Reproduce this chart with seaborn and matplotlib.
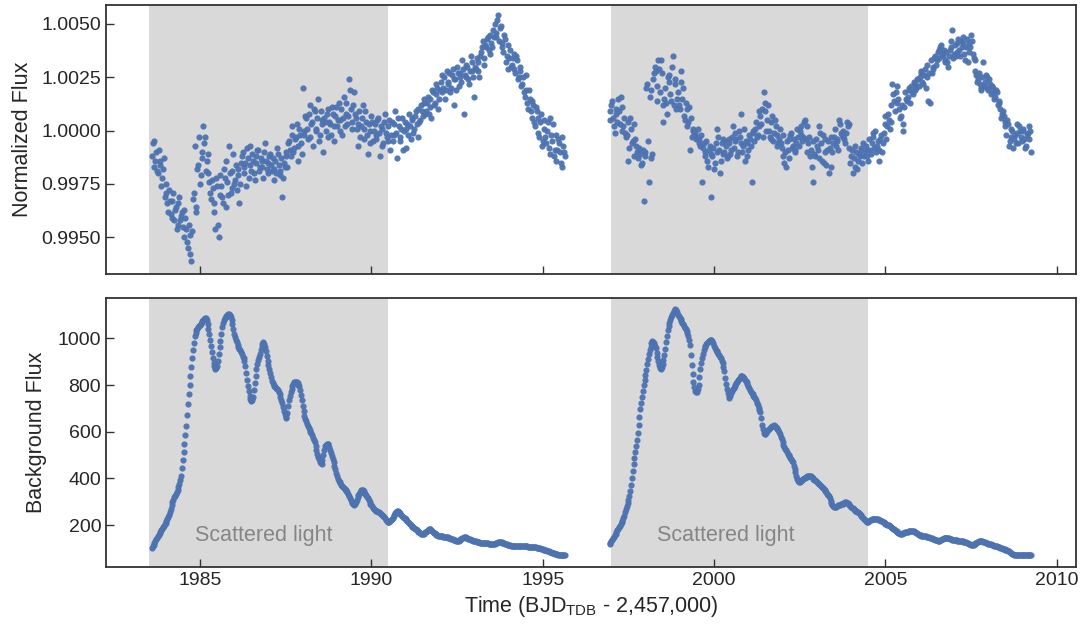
import numpy as np
import pandas as pd
import matplotlib
matplotlib.use("Agg")
import matplotlib.pyplot as plt
import seaborn as sns

# ---------------- data ----------------
cadence = 0.05          # days between samples in each interleaved set
seg1_start = 1983.60    # first sample of orbit 1
seg2_start = 1996.95    # first sample of orbit 2
# set "a" starts at the segment start, set "b" half a cadence later

# normalized flux, expressed as deviation from 1 in parts per thousand
flux_ppt_seg1_a = [
    -1.2, -0.5, -1.4, -1.9, -0.9, -1.6, -2.2, -1.3, -2.9, -3.4,
    -2.8, -3.9, -3.3, -4.2, -3.6, -4.4, -3.1, -4.0, -4.5, -3.7,
    -4.6, -5.5, -4.9, -6.1, -3.2, -0.7, -3.6, -1.6, -2.5, -1.0,
    0.2, -0.3, -1.4, -2.0, -2.9, -2.3, -3.4, -4.6, -2.6, -5.0,
    -2.1, -3.1, -1.8, -3.6, -2.4, -0.7, -2.9, -1.9, -2.5, -1.6,
    -2.1, -3.4, -1.5, -1.0, -1.7, -2.6, -1.3, -0.7, -1.9, -1.4,
    -2.3, -1.2, -0.9, -1.7, -1.4, -2.2, -0.6, -1.8, -1.5, -1.1,
    -1.9, -2.3, -1.4, -0.8, -1.6, -2.1, -3.1, -1.5, -1.0, -1.7,
    -0.5, -1.2, 0.2, -0.8, -0.3, -1.4, 0.1, -0.6, 2.0, -0.2,
    0.6, -0.4, 1.2, 0.3, -0.7, 0.9, 0.1, 1.5, -0.2, 0.5,
    -1.0, 0.4, 0.8, -0.3, 0.3, 1.1, -0.5, 0.7, 0.2, 1.3,
    0.5, -0.2, 1.6, 0.8, 0.3, 2.4, 1.0, 0.1, 1.8, 0.6,
    -0.7, 0.9, 0.2, 1.2, -0.4, 0.4, -1.1, 0.0, 0.7, -0.5,
    0.3, -0.2, 0.6, -1.2, 0.1, -0.6, 0.8, -0.3, 0.2, -0.9,
    0.4, -0.2, 0.9, -1.3, 0.2, -0.5, 0.6, 0.0, -0.8, 0.3,
    0.8, -0.4, 0.5, 0.1, 0.9, -0.3, 0.4, 1.2, 0.7, 1.5,
    0.9, 1.6, 1.1, 0.6, 1.8, 1.3, 2.2, 1.0, 1.9, 2.6,
    2.0, 1.5, 2.8, 2.3, 1.8, 2.6, 1.2, 2.4, 3.0, 2.1,
    2.7, 3.3, 0.8, 2.5, 3.0, 2.2, 3.5, 2.8, 1.6, 2.9,
    3.2, 2.5, 3.7, 4.2, 3.4, 3.9, 4.4, 3.6, 4.1, 4.7,
    5.0, 4.4, 5.4, 4.8, 4.1, 3.7, 4.3, 3.5, 2.9, 3.8,
    3.1, 3.6, 2.7, 3.3, 2.5, 3.0, 2.2, 1.8, 2.6, 1.3,
    1.9, 0.9, 1.4, 0.4, 1.1, 0.6, -0.3, 0.8, -0.5, 0.1,
    -0.6, 0.4, -1.1, -0.2, 0.3, -0.9, -1.4, -0.4, -1.0, -1.7,
    -0.7, -1.2,
]

flux_ppt_seg1_b = [
    -0.6, -1.7, -1.0, -2.0, -1.4, -2.6, -1.8, -3.1, -2.5, -3.8,
    -3.3, -4.1, -2.9, -3.7, -4.6, -3.4, -4.2, -3.8, -5.0, -4.1,
    -5.2, -4.4, -5.8, -4.7, -2.9, -3.8, -1.8, -0.3, -2.1, -1.3,
    -0.6, -1.9, -1.1, -2.4, -3.2, -2.7, -3.8, -2.2, -4.4, -3.0,
    -2.6, -3.4, -2.2, -1.4, -3.0, -2.0, -2.7, -1.1, -2.3, -2.8,
    -1.8, -2.5, -1.2, -2.0, -1.5, -0.8, -2.2, -1.6, -1.1, -2.0,
    -1.5, -0.9, -1.9, -1.3, -1.7, -1.0, -1.4, -2.0, -1.2, -1.6,
    -1.3, -1.8, -2.0, -1.1, -1.9, -1.3, -2.2, -1.7, -1.2, -0.6,
    -0.9, -0.2, -1.0, -0.4, 0.3, -0.7, -0.2, -1.1, 0.0, 0.7,
    0.1, 0.8, -0.3, 0.4, 1.0, 0.0, 0.6, -0.5, 0.9, 0.3,
    0.6, 0.0, 1.0, 0.4, -0.2, 0.8, 0.2, 1.1, 0.5, 0.0,
    1.0, 0.6, 0.2, 1.3, 0.7, 1.9, 0.4, 1.2, 0.8, 0.1,
    0.3, -0.3, 0.6, 0.1, 0.9, -0.2, 0.3, -0.6, 0.4, 0.0,
    -0.4, 0.5, -0.1, 0.2, -0.7, 0.4, -0.1, -0.5, 0.5, -0.2,
    -0.5, 0.3, -0.1, 0.6, -0.3, 0.1, -0.9, 0.4, 0.1, -0.2,
    0.2, 0.6, -0.1, 0.7, 0.3, 1.0, 0.5, 0.9, 1.3, 0.8,
    1.3, 0.8, 1.5, 1.9, 1.2, 1.7, 2.0, 1.5, 2.3, 1.8,
    2.5, 1.9, 2.2, 2.7, 2.0, 2.9, 2.4, 1.9, 2.7, 2.5,
    2.3, 2.9, 2.6, 3.1, 2.4, 2.8, 3.2, 2.5, 3.0, 3.4,
    2.8, 3.5, 3.9, 3.1, 4.0, 4.3, 3.8, 4.5, 3.9, 4.4,
    4.6, 5.2, 4.2, 4.9, 3.9, 4.5, 3.2, 4.0, 3.4, 3.0,
    3.4, 2.9, 3.5, 2.4, 2.8, 2.1, 2.5, 1.6, 1.9, 1.0,
    1.5, 0.6, 1.2, 0.2, 0.9, -0.1, 0.4, -0.7, 0.5, -0.3,
    0.0, -0.8, 0.6, -0.5, -1.2, -0.2, -0.9, -0.6, -1.5, -0.3,
    -1.0,
]

flux_ppt_seg2_a = [
    0.9, 1.2, 0.6, -0.1, 0.8, 1.5, 0.3, 1.1, 0.2, -0.1,
    -0.2, -1.4, 0.6, -0.6, 0.3, -0.4, -1.0, -0.9, -1.1, -1.5,
    -3.3, -1.2, 2.2, -2.4, 1.9, -1.1, 2.7, 2.8, 1.4, 2.9,
    3.3, 0.4, 1.5, 1.3, 2.5, 2.6, 1.4, 3.5, 2.2, 1.0,
    1.8, 1.0, 2.8, 2.0, 0.5, 1.0, 0.4, -0.9, -0.3, 0.0,
    -0.1, -0.3, -0.4, -0.7, -2.4, -0.6, -1.0, -1.4, -0.9, -3.1,
    -1.2, -1.8, -0.6, 0.1, -0.9, -1.4, -0.4, -1.0, -0.7, -1.2,
    -0.6, -0.9, 0.2, -0.1, -0.4, -1.0, -0.3, 0.8, -0.7, -1.4,
    -0.6, -0.9, -0.4, -2.4, -0.1, 0.1, -0.3, 0.2, 0.7, 1.0,
    1.8, 1.3, 0.5, 0.0, -0.4, 0.7, -0.1, 0.2, -0.7, -0.4,
    -0.6, -1.2, -1.5, -1.7, -0.9, -0.4, -0.1, -0.7, -1.0, -0.6,
    -0.3, 0.0, 0.2, -0.3, 0.5, 0.2, -0.6, -1.2, -1.7, -2.4,
    -1.2, -0.7, 0.2, -0.1, -1.4, -1.5, -0.4, -0.9, -2.0, -1.7,
    -1.0, -0.3, -0.7, -0.4, 0.5, -0.1, -0.3, -0.4, -0.1, 0.2,
    0.3, -1.2, -2.0, -1.7, -1.0, -1.4, -1.2, -0.9, -0.6, -1.0,
    -1.2, -1.4, -0.9, -0.6, -0.1, 0.0, -0.7, -1.4, -0.4, -1.0,
    -0.1, 0.7, 0.2, 0.5, 0.4, 2.2, 1.4, 1.8, 1.3, 1.0,
    0.7, 0.0, 1.1, 1.5, 1.6, 1.9, 2.1, 1.7, 2.2, 2.0,
    2.4, 2.5, 2.7, 2.2, 2.9, 2.5, 1.4, 1.3, 2.7, 3.0,
    3.5, 3.3, 3.8, 3.9, 3.6, 3.8, 3.3, 3.2, 3.5, 3.9,
    4.7, 3.6, 3.5, 4.1, 3.8, 4.2, 4.4, 3.6, 3.9, 3.2,
    4.1, 4.5, 3.6, 3.3, 2.6, 2.4, 2.2, 1.9, 3.2, 2.3,
    2.5, 1.9, 2.2, 2.1, 1.8, 1.6, 1.8, 1.3, 1.0, 0.8,
    0.7, 0.2, 0.5, -0.7, -0.3, 0.0, -0.4, -0.6, -0.1, 0.2,
    -0.3, 0.0, -0.4, -0.7, -0.1, 0.2, -1.0,
]

flux_ppt_seg2_b = [
    0.5, 1.4, 0.2, 1.0, 0.4, 0.9, 1.6, 0.0, 0.6, -0.3,
    0.4, -0.8, 0.1, -0.5, -1.2, -0.7, -1.3, -0.8, -1.6, -0.9,
    -1.0, 2.0, -0.5, 1.6, -1.3, 2.4, 3.0, 2.1, 3.3, 1.8,
    2.7, 1.2, 2.0, 0.8, 2.3, 1.7, 3.0, 1.2, 2.4, 1.5,
    1.2, 2.3, 1.5, 0.7, 1.3, 0.2, 1.1, 0.6, 0.1, -0.2,
    -0.4, 0.1, -0.6, -0.2, -0.8, -1.2, -0.5, -1.7, -0.7, -1.1,
    -0.8, -1.5, -1.0, -0.3, -2.0, -0.6, -1.1, -0.5, -1.3, -0.4,
    -1.1, -0.3, -0.8, -0.5, -1.2, 0.0, -0.6, -1.0, 0.1, -0.5,
    -1.2, -0.2, -0.7, 0.0, -0.5, 0.4, -0.2, 0.9, 0.3, -0.3,
    0.9, 0.0, 1.2, -0.3, 0.4, -0.5, 0.5, -0.2, -0.6, 0.1,
    -0.8, -0.2, -1.0, -0.5, -1.3, -0.2, -0.8, -0.4, -0.9, 0.1,
    -0.7, -0.2, -0.5, 0.4, -0.4, -1.0, -0.3, -0.9, -0.5, -1.1,
    -0.4, -0.9, -1.3, -0.6, -0.2, -1.0, -1.6, -0.5, -0.8, -0.3,
    -0.6, 0.1, -0.5, -0.9, 0.3, -0.2, 0.0, -0.6, 0.4, -0.8,
    -1.5, -0.9, -1.3, -0.7, -1.8, -1.1, -0.8, -1.5, -1.2, -0.7,
    -0.9, -0.4, -1.1, -0.3, -0.8, -1.0, -0.5, -0.9, -0.2, -0.6,
    0.3, -0.4, 0.8, 0.1, 1.2, 1.7, 0.9, 2.1, 1.5, 0.6,
    1.2, 0.3, 1.8, 1.4, 2.0, 1.3, 1.8, 2.3, 1.9, 2.4,
    2.1, 2.8, 2.3, 2.6, 2.0, 3.1, 2.7, 3.3, 2.9, 3.4,
    3.1, 3.7, 3.4, 4.0, 3.5, 3.2, 3.7, 3.0, 3.8, 4.2,
    3.4, 4.0, 3.7, 4.3, 3.5, 3.9, 4.1, 3.3, 4.3, 3.7,
    3.9, 4.2, 3.4, 2.8, 2.3, 2.7, 2.0, 2.5, 2.1, 2.6,
    2.0, 2.4, 1.7, 2.0, 1.5, 1.9, 1.2, 1.4, 0.6, 0.9,
    0.4, -0.2, 0.3, -0.5, 0.1, -0.8, -0.2, 0.3, -0.6, 0.0,
    -0.5, 0.1, -0.8, -0.2, -0.4, 0.0,
]

# background flux
bkg_seg1_a = [
    103, 115, 130, 146, 159, 172, 185, 197, 210, 226,
    245, 270, 298, 318, 335, 352, 375, 412, 478, 548,
    625, 718, 800, 878, 950, 1010, 1035, 1048, 1058, 1068,
    1078, 1088, 1078, 1040, 995, 940, 895, 870, 880, 935,
    990, 1048, 1078, 1092, 1100, 1104, 1090, 1062, 1020, 995,
    972, 955, 940, 922, 905, 850, 795, 755, 730, 748,
    810, 868, 907, 935, 962, 985, 965, 925, 885, 850,
    818, 800, 790, 783, 772, 750, 722, 690, 660, 680,
    735, 768, 795, 812, 815, 808, 795, 758, 710, 668,
    645, 625, 608, 593, 575, 557, 520, 492, 471, 462,
    500, 538, 548, 548, 522, 497, 468, 440, 408, 390,
    378, 367, 358, 350, 340, 325, 307, 293, 286, 298,
    318, 335, 348, 348, 338, 328, 314, 298, 287, 275,
    265, 260, 256, 252, 245, 238, 228, 218, 212, 216,
    225, 238, 252, 260, 255, 246, 238, 231, 225, 217,
    208, 200, 193, 188, 182, 175, 168, 163, 160, 164,
    172, 180, 183, 178, 170, 164, 158, 155, 153, 152,
    150, 149, 148, 146, 143, 140, 137, 134, 132, 133,
    138, 143, 147, 147, 144, 140, 137, 134, 132, 130,
    128, 126, 125, 124, 123, 122, 121, 120, 119, 118,
    120, 123, 126, 127, 126, 123, 120, 117, 115, 113,
    112, 111, 110, 110, 110, 109, 109, 108, 108, 108,
    107, 106, 105, 105, 104, 103, 101, 99, 97, 94,
    92, 89, 86, 83, 80, 77, 75, 73, 72, 71,
    71, 71,
]

bkg_seg1_b = [
    109, 122, 138, 152, 165, 178, 191, 203, 218, 235,
    257, 284, 308, 326, 343, 363, 393, 445, 513, 586,
    672, 760, 840, 915, 982, 1024, 1042, 1053, 1063, 1073,
    1084, 1086, 1061, 1018, 968, 917, 880, 873, 905, 962,
    1020, 1065, 1086, 1097, 1103, 1099, 1077, 1042, 1006, 983,
    963, 948, 931, 914, 880, 822, 773, 740, 737, 778,
    840, 889, 922, 949, 975, 977, 946, 905, 867, 834,
    808, 795, 786, 778, 762, 737, 706, 674, 665, 710,
    753, 782, 804, 815, 812, 802, 778, 735, 688, 655,
    635, 616, 600, 584, 566, 540, 505, 481, 465, 480,
    521, 545, 549, 536, 510, 483, 454, 424, 398, 384,
    372, 362, 354, 345, 333, 316, 300, 289, 291, 308,
    327, 342, 349, 344, 333, 321, 306, 292, 281, 270,
    262, 258, 254, 249, 242, 233, 223, 214, 213, 220,
    231, 245, 257, 258, 251, 242, 235, 228, 221, 212,
    204, 196, 190, 185, 179, 171, 165, 161, 162, 168,
    176, 182, 181, 174, 167, 161, 156, 154, 152, 151,
    150, 148, 147, 145, 141, 138, 135, 133, 132, 135,
    141, 145, 147, 146, 142, 138, 135, 133, 131, 129,
    127, 125, 124, 123, 122, 121, 120, 119, 118, 119,
    121, 124, 127, 127, 124, 121, 118, 116, 114, 112,
    111, 110, 110, 110, 109, 109, 108, 108, 108, 107,
    106, 105, 105, 104, 103, 102, 100, 98, 95, 93,
    90, 87, 84, 81, 78, 76, 74, 72, 71, 71,
    71,
]

bkg_seg2_a = [
    118, 130, 143, 157, 170, 184, 197, 211, 228, 254,
    280, 306, 345, 400, 460, 514, 564, 627, 697, 750,
    798, 842, 890, 933, 965, 990, 980, 957, 920, 885,
    868, 888, 928, 985, 1035, 1066, 1090, 1108, 1124, 1120,
    1102, 1088, 1073, 1060, 1045, 1033, 1012, 970, 885, 814,
    775, 768, 800, 870, 915, 952, 968, 980, 988, 993,
    988, 968, 952, 940, 928, 914, 895, 858, 805, 765,
    745, 765, 782, 795, 808, 820, 832, 840, 835, 822,
    812, 795, 778, 765, 755, 745, 725, 703, 685, 630,
    595, 588, 602, 613, 618, 623, 627, 622, 612, 600,
    578, 555, 535, 520, 506, 494, 482, 468, 440, 412,
    388, 386, 392, 397, 402, 406, 410, 412, 406, 398,
    391, 384, 377, 370, 362, 355, 345, 335, 323, 305,
    287, 276, 279, 282, 285, 289, 292, 296, 298, 294,
    286, 278, 271, 265, 259, 254, 248, 240, 231, 222,
    213, 214, 220, 225, 226, 226, 224, 223, 221, 216,
    211, 206, 202, 198, 193, 188, 182, 176, 170, 164,
    161, 164, 167, 170, 172, 174, 175, 175, 171, 166,
    161, 157, 155, 153, 151, 150, 148, 146, 143, 140,
    137, 134, 132, 135, 139, 143, 146, 146, 143, 140,
    137, 135, 134, 133, 132, 131, 130, 128, 126, 122,
    118, 115, 114, 118, 124, 129, 132, 132, 129, 126,
    123, 120, 118, 115, 113, 110, 108, 105, 103, 100,
    97, 94, 91, 87, 82, 77, 73, 71, 71, 71,
    71, 71, 71, 71, 71, 71, 71,
]

bkg_seg2_b = [
    124, 136, 150, 163, 177, 190, 204, 219, 240, 267,
    293, 324, 372, 430, 487, 539, 595, 662, 724, 774,
    820, 866, 912, 950, 978, 986, 969, 939, 902, 875,
    876, 906, 955, 1012, 1052, 1079, 1100, 1117, 1123, 1112,
    1095, 1081, 1066, 1052, 1039, 1024, 993, 930, 848, 792,
    769, 782, 835, 894, 935, 961, 974, 984, 991, 991,
    979, 960, 946, 934, 921, 905, 878, 832, 784, 753,
    754, 774, 789, 802, 814, 826, 837, 838, 829, 817,
    804, 787, 771, 760, 750, 736, 714, 695, 660, 610,
    590, 595, 608, 616, 621, 625, 625, 617, 606, 590,
    567, 545, 527, 513, 500, 488, 476, 455, 426, 399,
    386, 389, 395, 400, 404, 408, 411, 409, 402, 395,
    388, 381, 374, 366, 359, 350, 340, 330, 315, 296,
    280, 277, 281, 284, 287, 291, 294, 297, 296, 290,
    282, 275, 268, 262, 257, 251, 244, 236, 227, 217,
    212, 217, 223, 226, 226, 225, 224, 222, 219, 214,
    209, 204, 200, 196, 191, 185, 179, 173, 167, 162,
    162, 166, 169, 171, 173, 175, 175, 173, 169, 164,
    159, 156, 154, 152, 151, 149, 147, 145, 142, 139,
    136, 133, 133, 137, 141, 145, 146, 145, 142, 139,
    136, 135, 134, 133, 132, 131, 129, 127, 124, 120,
    117, 114, 116, 121, 127, 131, 132, 131, 128, 125,
    122, 119, 117, 114, 112, 109, 107, 104, 102, 99,
    96, 93, 89, 85, 80, 75, 72, 71, 71, 71,
    71, 71, 71, 71, 71, 71,
]

scattered_spans = [(1983.5, 1990.5), (1997.0, 2004.5)]
label_text = "Scattered light"
top_yticks = [0.9950, 0.9975, 1.0000, 1.0025, 1.0050]
bottom_yticks = [200, 400, 600, 800, 1000]
xticks = [1985, 1990, 1995, 2000, 2005, 2010]


def segment_frame(start, values, name):
    t = start + cadence * np.arange(len(values))
    return pd.DataFrame({"time": t, name: values})


half = cadence / 2
top_df = pd.concat([
    segment_frame(seg1_start, flux_ppt_seg1_a, "ppt"),
    segment_frame(seg1_start + half, flux_ppt_seg1_b, "ppt"),
    segment_frame(seg2_start, flux_ppt_seg2_a, "ppt"),
    segment_frame(seg2_start + half, flux_ppt_seg2_b, "ppt"),
], ignore_index=True).sort_values("time")
top_df["flux"] = 1.0 + top_df["ppt"] / 1000.0

bkg_df = pd.concat([
    segment_frame(seg1_start, bkg_seg1_a, "bkg"),
    segment_frame(seg1_start + half, bkg_seg1_b, "bkg"),
    segment_frame(seg2_start, bkg_seg2_a, "bkg"),
    segment_frame(seg2_start + half, bkg_seg2_b, "bkg"),
], ignore_index=True).sort_values("time")

# ---------------- style ----------------
sns.set_style("ticks")
plt.rcParams["font.family"] = ["Liberation Sans", "DejaVu Sans"]
plt.rcParams["mathtext.fontset"] = "custom"
plt.rcParams["mathtext.rm"] = "Liberation Sans"
plt.rcParams["mathtext.it"] = "Liberation Sans:italic"
plt.rcParams["mathtext.bf"] = "Liberation Sans:bold"

dot_color = "#4C72B0"
shade_color = "#d9d9d9"
spine_color = "#333333"
text_color = "#262626"

fig = plt.figure(figsize=(10.86, 6.24), dpi=100)
W, H = 1086, 624
left, right = 106, 1076
ax1 = fig.add_axes([left / W, 1 - 274 / H, (right - left) / W, (274 - 5) / H])
ax2 = fig.add_axes([left / W, 1 - 567 / H, (right - left) / W, (567 - 298) / H])

for ax in (ax1, ax2):
    for a, b in scattered_spans:
        ax.axvspan(a, b, color=shade_color, lw=0, zorder=0)

sns.scatterplot(data=top_df, x="time", y="flux", ax=ax1, color=dot_color,
                s=20, linewidth=0, alpha=0.95, zorder=3, legend=False)
sns.scatterplot(data=bkg_df, x="time", y="bkg", ax=ax2, color=dot_color,
                s=20, linewidth=0, alpha=0.95, zorder=3, legend=False)

for a, b in scattered_spans:
    ax2.text(a + 3.35, 155, label_text, ha="center", va="center",
             fontsize=15.5, color="#858585", zorder=4)

xlim = (1982.26, 2010.56)
ax1.set_xlim(*xlim)
ax2.set_xlim(*xlim)
ax1.set_ylim(0.99328, 1.00589)
ax2.set_ylim(20, 1173)

ax1.set_yticks(top_yticks)
ax1.set_yticklabels([f"{v:.4f}" for v in top_yticks])
ax2.set_yticks(bottom_yticks)
ax2.set_yticklabels([str(v) for v in bottom_yticks])
for ax in (ax1, ax2):
    ax.set_xticks(xticks)
ax1.set_xticklabels([])
ax2.set_xticklabels([str(v) for v in xticks])

ax1.set_xlabel("")
ax1.set_ylabel("Normalized Flux", fontsize=15.5, color=text_color, labelpad=6)
ax2.set_ylabel("Background Flux", fontsize=15.5, color=text_color, labelpad=8)
ax2.set_xlabel(r"Time (BJD$_{\mathrm{TDB}}$ - 2,457,000)", fontsize=15.5,
               color=text_color, labelpad=4)

for ax in (ax1, ax2):
    ax.tick_params(axis="both", direction="in", length=6, width=1.0,
                   color=spine_color, labelsize=14, labelcolor=text_color,
                   top=False, right=False)
    for sp in ax.spines.values():
        sp.set_visible(True)
        sp.set_color(spine_color)
        sp.set_linewidth(1.3)

fig.savefig("out.png", dpi=100)
